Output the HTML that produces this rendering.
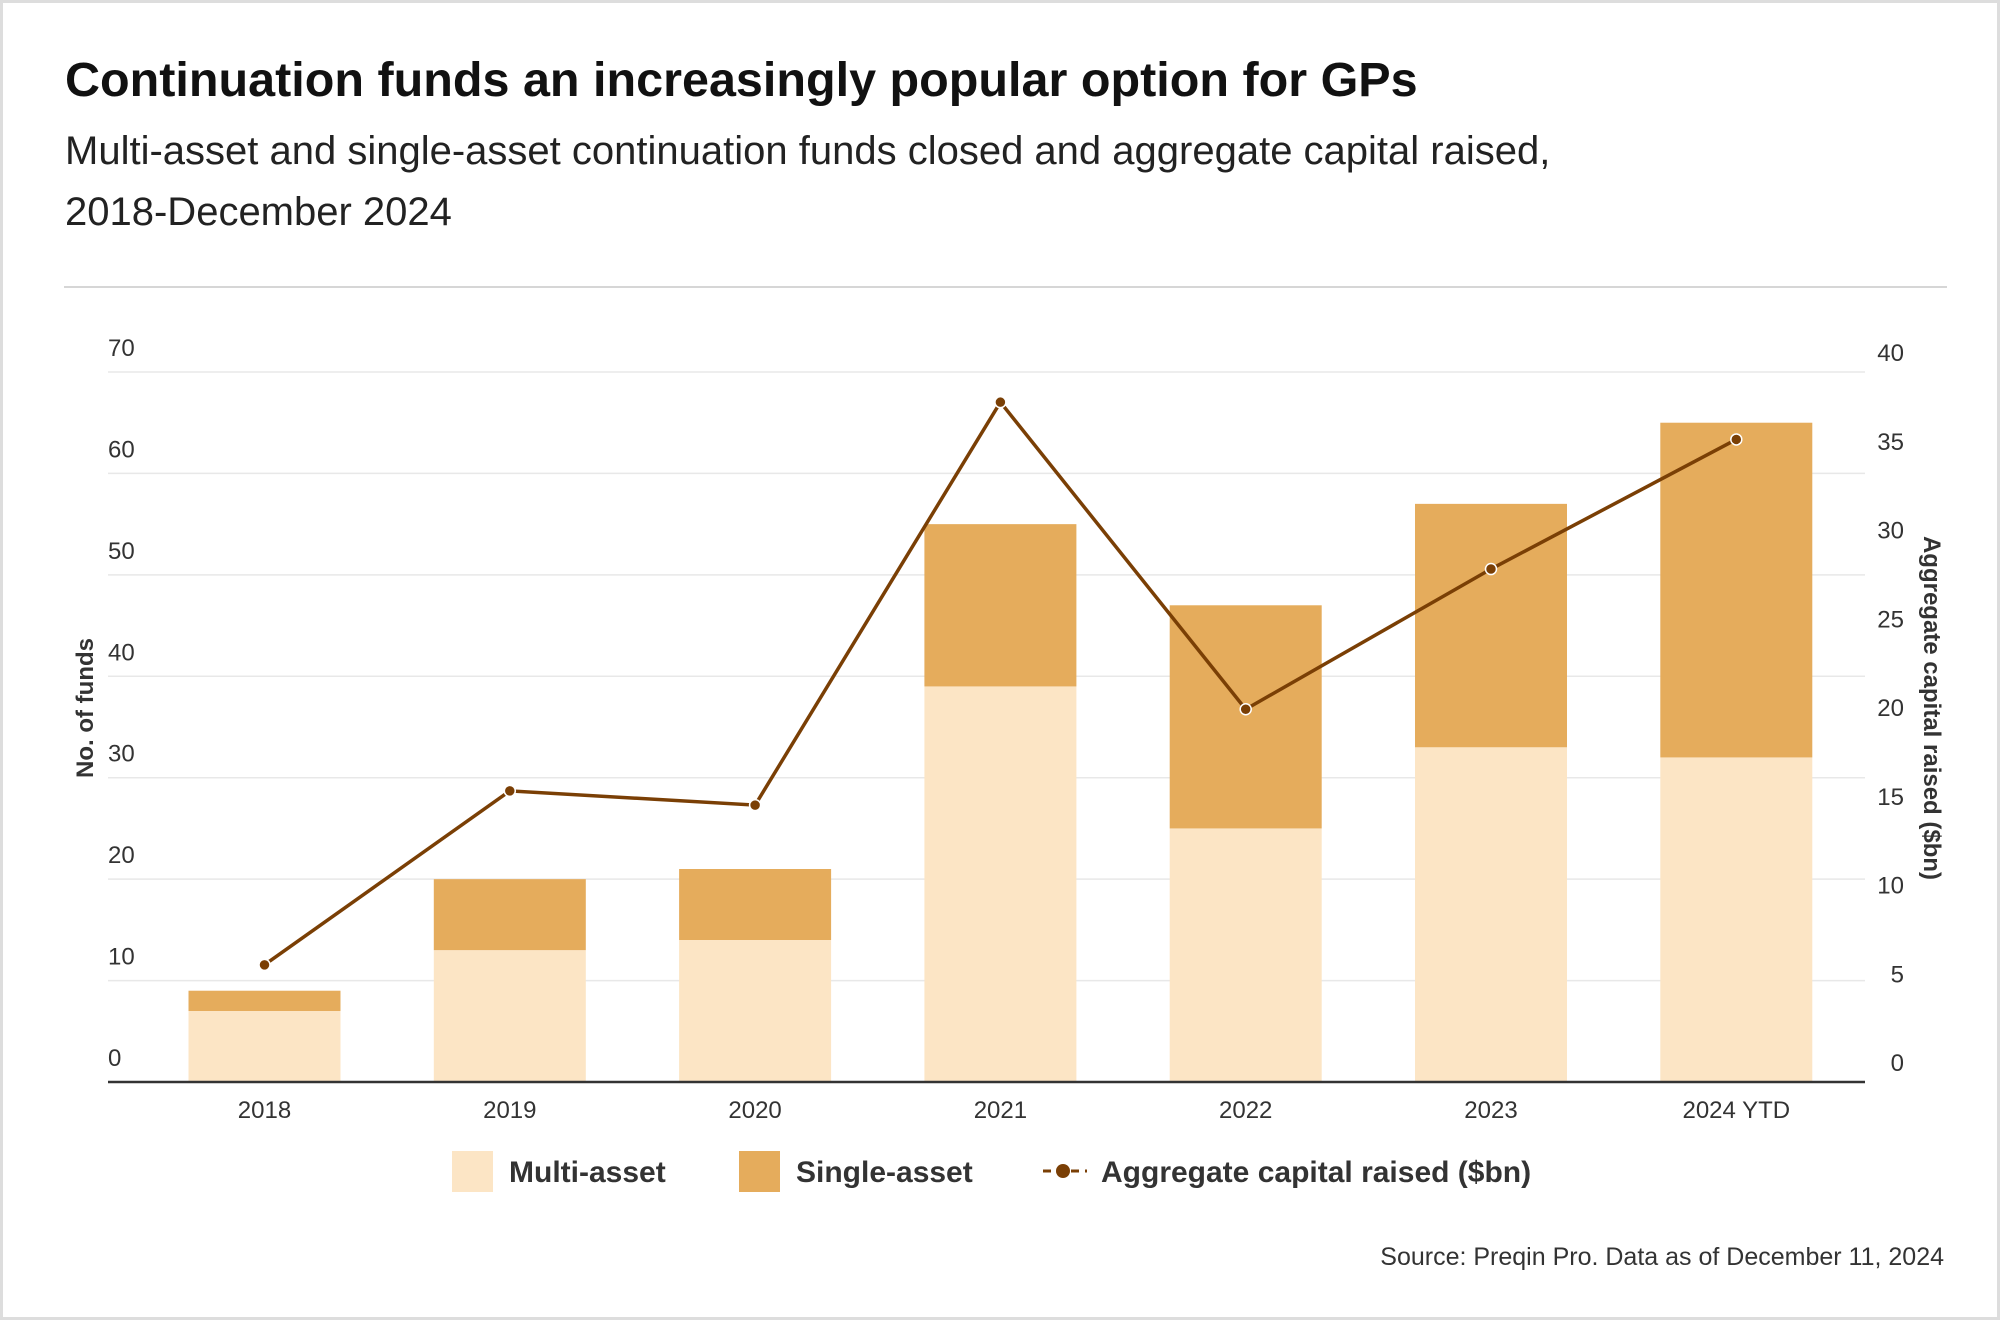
<!DOCTYPE html>
<html><head><meta charset="utf-8"><style>
body{margin:0;background:#fff;font-family:"Liberation Sans",sans-serif;}
#wrap{position:relative;width:2000px;height:1320px;overflow:hidden;box-sizing:border-box;border:3px solid #ddd;}
</style></head><body>
<div id="wrap">
<svg id="chart" width="2000" height="1320" style="position:absolute;left:0;top:0"></svg>
</div>
<script>
const categories=["2018","2019","2020","2021","2022","2023","2024 YTD"];
const multiAsset=[7,13,14,39,25,33,32];
const singleAsset=[2,7,7,16,22,24,33];
const capital=[6.6,16.4,15.6,38.3,21.0,28.9,36.2];
const leftTicks=[0,10,20,30,40,50,60,70];
const rightTicks=[0,5,10,15,20,25,30,35,40];

const svg=document.getElementById('chart');
const NS='http://www.w3.org/2000/svg';
function mk(t,a,txt){const e=document.createElementNS(NS,t);for(const k in a)e.setAttribute(k,a[k]);if(txt!==undefined)e.textContent=txt;svg.appendChild(e);return e;}
const L=105,R=1862,B=1079,T=369;
const yL=v=>B-(v/70)*(B-T);
const yR=v=>B-(v/40)*(B-T);
const step=245.3;
const xC=i=>261.5+step*i;
const bw=152;

let e;
e=mk('text',{x:62,y:93,'font-size':48.5,'font-weight':'bold',fill:'#111'},'Continuation funds an increasingly popular option for GPs');

e=mk('text',{x:62,y:161,'font-size':40,fill:'#222'},'Multi-asset and single-asset continuation funds closed and aggregate capital raised,');

e=mk('text',{x:62,y:222,'font-size':40,fill:'#222'},'2018-December 2024');

e=mk('line',{x1:61,x2:1944,y1:284,y2:284,stroke:'#d6d6d6','stroke-width':2});


leftTicks.forEach(v=>{
  if(v>0){e=mk('line',{x1:L,x2:R,y1:yL(v),y2:yL(v),stroke:'#e8e8e8','stroke-width':1.5});
  }
  e=mk('text',{x:L,y:yL(v)-16,'font-size':24,fill:'#333'},String(v));
  
});
rightTicks.forEach(v=>{
  e=mk('text',{x:1901,y:yR(v)-11,'font-size':24,fill:'#333','text-anchor':'end'},String(v));
  
});
e=mk('text',{x:0,y:0,'font-size':24,'font-weight':'bold',fill:'#333','text-anchor':'middle',transform:'translate(90,705) rotate(-90)'},'No. of funds');

e=mk('text',{x:0,y:0,'font-size':24,'font-weight':'bold',fill:'#333','text-anchor':'middle',transform:'translate(1921,705) rotate(90)'},'Aggregate capital raised ($bn)');


categories.forEach((c,i)=>{
  const x=xC(i)-bw/2;
  e=mk('rect',{x:x,y:yL(multiAsset[i]),width:bw,height:B-yL(multiAsset[i]),fill:'#fce5c5'});
  
  const top=multiAsset[i]+singleAsset[i];
  e=mk('rect',{x:x,y:yL(top),width:bw,height:yL(multiAsset[i])-yL(top),fill:'#e5ac5c'});
  
  e=mk('text',{x:xC(i),y:B+36,'font-size':24,fill:'#333','text-anchor':'middle'},c);
  
});
e=mk('line',{x1:L,x2:R,y1:B,y2:B,stroke:'#333','stroke-width':2.5});


const pts=capital.map((v,i)=>xC(i)+','+yR(v)).join(' ');
e=mk('polyline',{points:pts,fill:'none',stroke:'#7a3f05','stroke-width':3.5});

capital.forEach((v,i)=>{
  e=mk('circle',{cx:xC(i),cy:yR(v),r:5.5,fill:'#7a3f05',stroke:'#fff','stroke-width':1.5});
  
});

e=mk('rect',{x:449,y:1148,width:41,height:41,fill:'#fce5c5'});

e=mk('text',{x:506,y:1179,'font-size':30,'font-weight':'bold',fill:'#333'},'Multi-asset');

e=mk('rect',{x:736,y:1148,width:41,height:41,fill:'#e5ac5c'});

e=mk('text',{x:793,y:1179,'font-size':30,'font-weight':'bold',fill:'#333'},'Single-asset');

e=mk('line',{x1:1040,x2:1084,y1:1168,y2:1168,stroke:'#7a3f05','stroke-width':3,'stroke-dasharray':'8,6'});

e=mk('circle',{cx:1060,cy:1168,r:7,fill:'#7a3f05'});

e=mk('text',{x:1098,y:1179,'font-size':30,'font-weight':'bold',fill:'#333'},'Aggregate capital raised ($bn)');


e=mk('text',{x:1941,y:1262,'font-size':25,fill:'#333','text-anchor':'end'},'Source: Preqin Pro. Data as of December 11, 2024');

</script>
</body></html>
